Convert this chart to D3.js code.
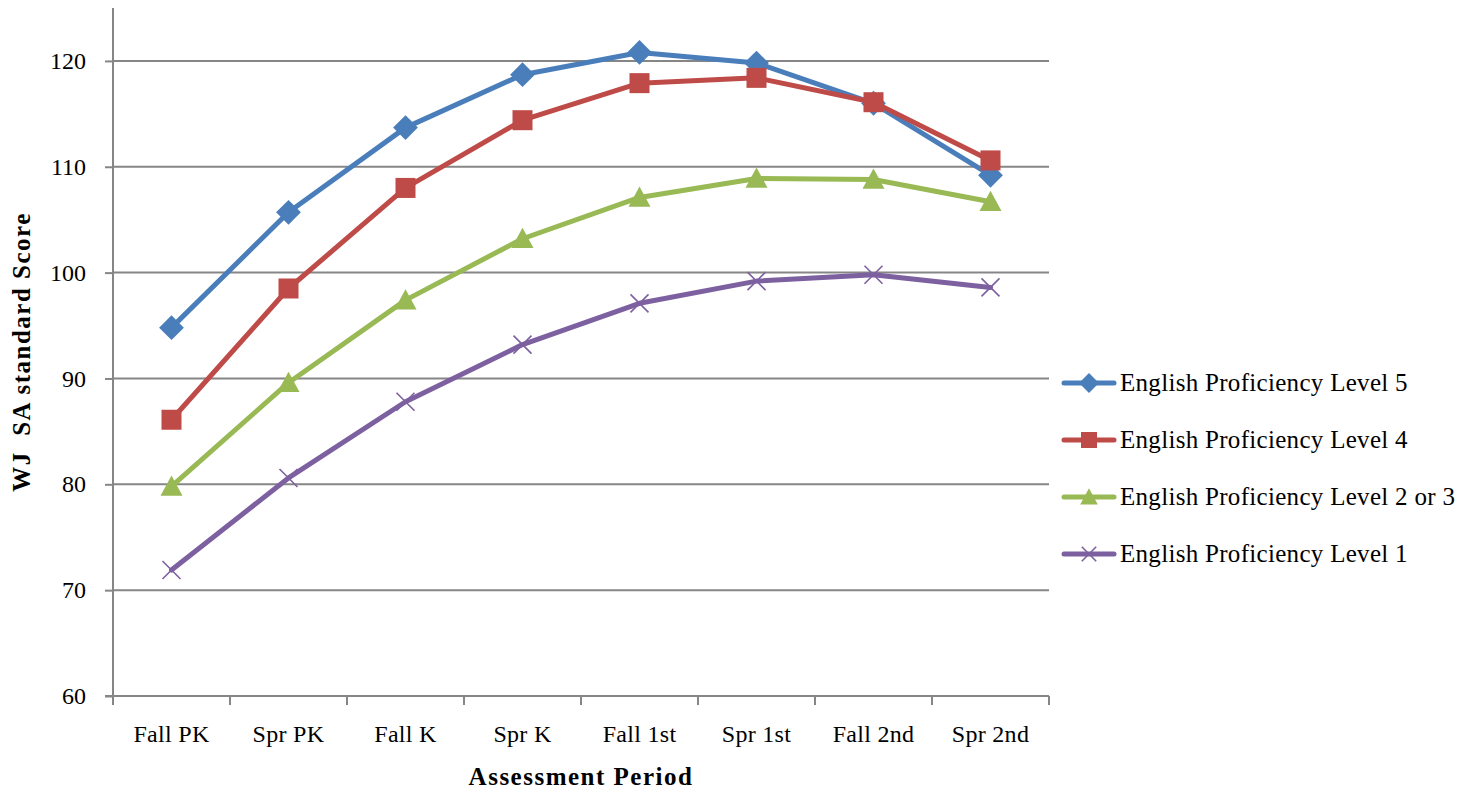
<!DOCTYPE html>
<html><head><meta charset="utf-8">
<script src="https://cdn.jsdelivr.net/npm/d3@7"></script>
<style>
html,body{margin:0;padding:0;background:#fff;}
text{font-family:"Palatino Linotype","Book Antiqua",Palatino,"Liberation Serif","DejaVu Serif",serif;fill:#000;}
</style></head>
<body><svg id="c" width="1471" height="790"></svg>
<script>
const categories = ["Fall PK","Spr PK","Fall K","Spr K","Fall 1st","Spr 1st","Fall 2nd","Spr 2nd"];
const level5 = [94.8,105.7,113.7,118.7,120.8,119.8,116.0,109.2];
const level4 = [86.1,98.5,108.0,114.4,117.9,118.4,116.1,110.6];
const level23 = [79.8,89.6,97.4,103.2,107.1,108.9,108.8,106.7];
const level1 = [71.9,80.6,87.8,93.2,97.1,99.2,99.8,98.6];
const seriesNames = ["English Proficiency Level 5","English Proficiency Level 4","English Proficiency Level 2 or 3","English Proficiency Level 1"];
const yTicks = [60,70,80,90,100,110,120];

const series = [
  {name:seriesNames[0], values:level5, color:"#4a7ebb", marker:"diamond"},
  {name:seriesNames[1], values:level4, color:"#be4b48", marker:"square"},
  {name:seriesNames[2], values:level23, color:"#98b954", marker:"triangle"},
  {name:seriesNames[3], values:level1, color:"#7d60a0", marker:"x"}
];

const svg = d3.select("#c");
const L=113, R=1049, T=8, B=696;
const x = d3.scaleBand().domain(categories).range([L,R]);
const y = d3.scaleLinear().domain([60,125]).range([B,T]);
const grid="#868686";

svg.append("g").selectAll("line").data(yTicks.slice(1)).join("line")
  .attr("x1",L).attr("x2",R).attr("y1",d=>y(d)).attr("y2",d=>y(d))
  .attr("stroke",grid).attr("stroke-width",2);

const ya = svg.append("g").attr("transform",`translate(${L},0)`)
  .call(d3.axisLeft(y).tickValues(yTicks).tickSize(8).tickPadding(19));
ya.select(".domain").remove();
ya.append("line").attr("x1",0).attr("x2",0).attr("y1",T).attr("y2",B).attr("stroke",grid).attr("stroke-width",2);
ya.selectAll(".tick line").attr("stroke",grid).attr("stroke-width",2);
ya.selectAll(".tick text").style("font-size","24px").style("font-family",null).attr("fill","#000");

const xa = svg.append("g").attr("transform",`translate(0,${B})`);
xa.append("line").attr("x1",L-8).attr("x2",R).attr("y1",0).attr("y2",0).attr("stroke",grid).attr("stroke-width",2);
const bounds = categories.map(c=>x(c)).concat([R]);
xa.selectAll("line.t").data(bounds).join("line").attr("class","t")
  .attr("x1",d=>d).attr("x2",d=>d).attr("y1",0).attr("y2",9).attr("stroke",grid).attr("stroke-width",2);
xa.selectAll("text").data(categories).join("text")
  .attr("x",d=>x(d)+x.bandwidth()/2).attr("y",46).attr("text-anchor","middle")
  .style("font-size","24px").style("letter-spacing","0.3px").text(d=>d);

svg.append("text").attr("x",581).attr("y",785).attr("text-anchor","middle")
  .style("font-size","25px").style("font-weight","bold").style("letter-spacing","1.5px").text("Assessment Period");
svg.append("text").attr("transform","translate(30,352) rotate(-90)").attr("text-anchor","middle")
  .style("font-size","25px").style("font-weight","bold").style("letter-spacing","1.5px").style("white-space","pre").text("WJ  SA standard Score");

function drawMarker(g, type, cx, cy, color, s){
  if(type==="diamond"){
    const r=s*0.62;
    g.append("path").attr("d",`M${cx},${cy-r}L${cx+r},${cy}L${cx},${cy+r}L${cx-r},${cy}Z`).attr("fill",color);
  } else if(type==="square"){
    const r=s*0.5;
    g.append("rect").attr("x",cx-r).attr("y",cy-r).attr("width",2*r).attr("height",2*r).attr("fill",color);
  } else if(type==="triangle"){
    const r=s*0.55;
    g.append("path").attr("d",`M${cx},${cy-r}L${cx+r},${cy+r*0.85}L${cx-r},${cy+r*0.85}Z`).attr("fill",color);
  } else {
    const r=s*0.45;
    g.append("path").attr("d",`M${cx-r},${cy-r}L${cx+r},${cy+r}M${cx-r},${cy+r}L${cx+r},${cy-r}`).attr("stroke",color).attr("stroke-width",1.6);
  }
}

const line = d3.line().x((d,i)=>x(categories[i])+x.bandwidth()/2).y(d=>y(d));
const order=[3,2,0,1];
order.forEach(k=>{
  const s=series[k];
  const g=svg.append("g");
  g.append("path").datum(s.values).attr("d",line).attr("fill","none").attr("stroke",s.color)
    .attr("stroke-width",5).attr("stroke-linejoin","round").attr("stroke-linecap","round");
  s.values.forEach((v,i)=>drawMarker(g,s.marker,x(categories[i])+x.bandwidth()/2,y(v),s.color,20));
});

const lg = svg.append("g");
const ly=[383,440,497,554];
series.forEach((s,i)=>{
  const g=lg.append("g");
  g.append("line").attr("x1",1064).attr("x2",1114).attr("y1",ly[i]).attr("y2",ly[i])
    .attr("stroke",s.color).attr("stroke-width",5).attr("stroke-linecap","round");
  drawMarker(g,s.marker,1089,ly[i],s.color,16);
  g.append("text").attr("x",1120).attr("y",ly[i]+8).style("font-size","25px").style("letter-spacing","0.3px").text(s.name);
});
</script></body></html>
